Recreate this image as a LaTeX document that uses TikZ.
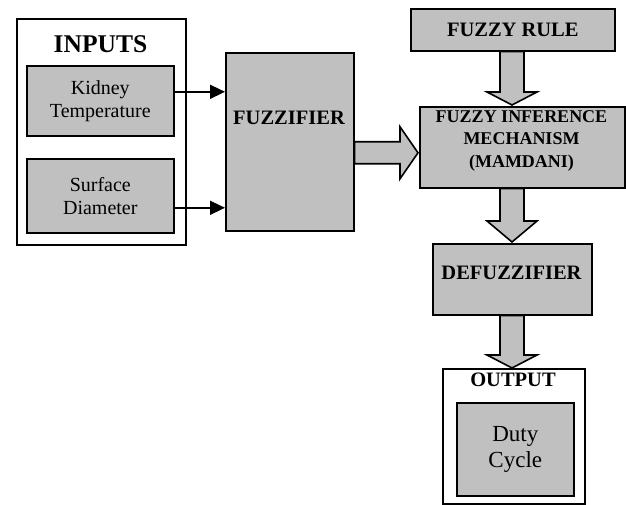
\documentclass[tikz,border=0pt]{standalone}
\usepackage{fontspec}
\setmainfont{Liberation Serif}
\usetikzlibrary{calc,arrows.meta}
\definecolor{boxgray}{HTML}{C0C0C0}
\newcommand{\vblockarrow}[3]{%
  \draw[barrow] ($(#1)+(-12,0)$) -- ($(#2)+(-12,-#3)$) -- ($(#2)+(-25,-#3)$) -- (#2)
    -- ($(#2)+(25,-#3)$) -- ($(#2)+(12,-#3)$) -- ($(#1)+(12,0)$) -- cycle;}
\begin{document}
\begin{tikzpicture}[x=1pt,y=-1pt,
  graybox/.style={draw=black,fill=boxgray,line width=1.6pt,inner sep=0pt,anchor=north west},
  whitebox/.style={draw=black,fill=white,line width=1.6pt,inner sep=0pt,anchor=north west},
  barrow/.style={draw=black,fill=boxgray,line width=1.6pt,line join=miter},
  sarrow/.style={draw=black,line width=1.5pt,-{Triangle[length=15pt,width=14pt]}},
  boldlbl/.style={font=\fontsize{20.5}{23}\selectfont\bfseries,inner sep=0pt,align=center},
  reglbl/.style={font=\fontsize{20}{23}\selectfont,inner sep=0pt,align=center}]
\useasboundingbox (0,0) rectangle (626,505);
% inputs
\node[whitebox,minimum width=169pt,minimum height=226pt] (inputs) at (16,18) {};
\node[font=\fontsize{25.5}{28}\selectfont\bfseries,inner sep=0pt] (inlbl) at (100.5,44) {INPUTS};
\node[graybox,minimum width=147pt,minimum height=70pt] (kid) at (26,65) {};
\node[reglbl] (kidlbl) at (kid.center) {Kidney\\Temperature};
\node[graybox,minimum width=147pt,minimum height=74pt] (surf) at (26,158) {};
\node[reglbl] (surflbl) at (surf.center) {Surface\\Diameter};
% fuzzifier
\node[graybox,minimum width=128pt,minimum height=178pt] (fuzz) at (225,52) {};
\node[boldlbl] (fuzzlbl) at (289,118) {FUZZIFIER};
% fuzzy rule
\node[graybox,minimum width=204pt,minimum height=42pt] (rule) at (410,8) {};
\node[boldlbl] (rulelbl) at (rule.center) {FUZZY RULE};
% inference
\node[graybox,minimum width=205pt,minimum height=81pt] (inf) at (419,106) {};
\node[font=\fontsize{18}{22.5}\selectfont\bfseries,inner sep=0pt,align=center] (inflbl) at (521.5,140.5) {FUZZY INFERENCE\\MECHANISM\\(MAMDANI)};
% defuzzifier
\node[graybox,minimum width=159pt,minimum height=71pt] (defuzz) at (432,243) {};
\node[boldlbl] (defuzzlbl) at (511.5,273) {DEFUZZIFIER};
% output
\node[whitebox,minimum width=142pt,minimum height=135pt] (out) at (442,368) {};
\node[boldlbl] (outlbl) at (513,380) {OUTPUT};
\node[graybox,minimum width=117pt,minimum height=93pt] (duty) at (456,402) {};
\node[font=\fontsize{23}{26}\selectfont,inner sep=0pt,align=center] (dutylbl) at (duty.center) {Duty\\Cycle};
% small arrows
\draw[sarrow] ($(kid.east)+(0,-9)$) coordinate (k1) -- (k1 -| fuzz.west);
\draw[sarrow] ($(surf.east)+(0,12)$) coordinate (s1) -- (s1 -| fuzz.west);
% horizontal block arrow
\coordinate (h0) at ($(fuzz.east)+(0,11)$);
\coordinate (h1) at ($(h0 -| inf.west)+(-1,0)$);
\draw[barrow] ($(h0)+(0,-11)$) -- ($(h1)+(-18,-11)$) -- ($(h1)+(-18,-26)$) -- (h1)
  -- ($(h1)+(-18,26)$) -- ($(h1)+(-18,11)$) -- ($(h0)+(0,11)$) -- cycle;
% vertical block arrows
\coordinate (v1) at ($(rule.south -| 512,0 |- inf.north)+(0,-1)$);
\coordinate (r0) at (512,0 |- rule.south);
\coordinate (r1) at ($(r0 |- inf.north)+(0,-1)$);
\vblockarrow{r0}{r1}{13}
\coordinate (i0) at (512,0 |- inf.south);
\coordinate (i1) at ($(i0 |- defuzz.north)+(0,-1)$);
\vblockarrow{i0}{i1}{21}
\coordinate (d0) at (512,0 |- defuzz.south);
\coordinate (d1) at ($(d0 |- out.north)+(0,0)$);
\vblockarrow{d0}{d1}{13}
\end{tikzpicture}
\end{document}
